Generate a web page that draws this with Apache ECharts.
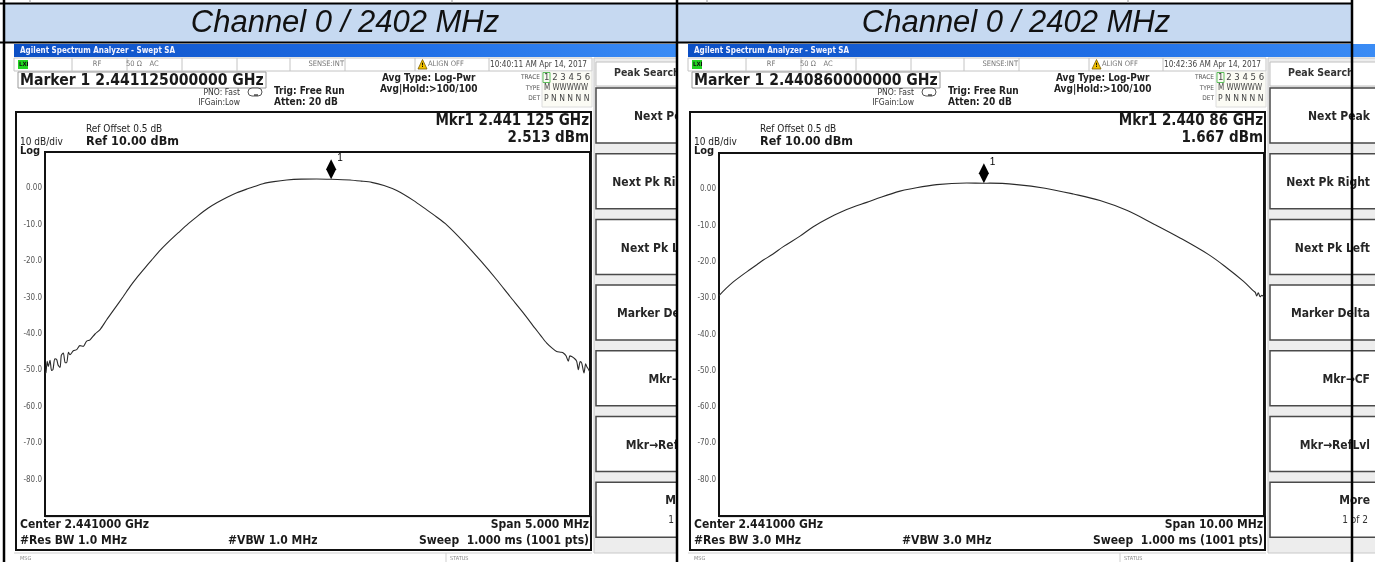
<!DOCTYPE html>
<html><head><meta charset="utf-8">
<script src="https://cdn.jsdelivr.net/npm/echarts@6/dist/echarts.min.js"></script>
<style>html,body{margin:0;padding:0;background:#fff}#c{width:1375px;height:562px}</style>
</head><body><div id="c"></div>
<script>
// ---------- data ----------
const headerTitles = ['Channel 0 / 2402 MHz', 'Channel 0 / 2402 MHz'];

// Trace A: span 5 MHz around 2441 MHz (MHz, dBm)
const freqA = [2438.500,2438.509,2438.520,2438.530,2438.546,2438.560,2438.573,2438.590,2438.607,2438.620,2438.638,2438.650,2438.668,2438.685,2438.699,2438.715,2438.729,2438.760,2438.791,2438.820,2438.851,2438.880,2438.913,2438.959,2439.005,2439.066,2439.142,2439.218,2439.280,2439.341,2439.410,2439.478,2439.560,2439.647,2439.730,2439.815,2439.900,2439.998,2440.080,2440.167,2440.260,2440.350,2440.430,2440.500,2440.600,2440.717,2440.850,2440.993,2441.125,2441.298,2441.400,2441.497,2441.610,2441.727,2441.879,2442.002,2442.090,2442.185,2442.338,2442.500,2442.644,2442.766,2442.888,2442.995,2443.050,2443.103,2443.150,2443.194,2443.230,2443.255,2443.280,2443.301,2443.315,2443.332,2443.360,2443.378,2443.393,2443.410,2443.424,2443.445,2443.460,2443.470,2443.488,2443.500];
const levelA = [-50.8,-50.6,-47.5,-48.9,-47.2,-50.0,-49.8,-46.8,-47.0,-48.5,-49.2,-45.8,-45.2,-47.9,-47.9,-45.0,-45.7,-44.6,-44.3,-43.2,-43.4,-42.0,-41.6,-40.0,-38.8,-36.1,-32.9,-29.7,-27.0,-24.6,-22.1,-19.7,-16.9,-14.3,-12.0,-9.7,-7.6,-5.4,-3.9,-2.5,-1.2,-0.2,0.6,1.3,1.85,2.3,2.55,2.6,2.51,2.3,2.0,1.65,0.8,-0.6,-3.3,-5.9,-7.8,-10.0,-14.6,-20.0,-25.1,-29.7,-34.2,-38.4,-40.5,-42.5,-43.8,-44.8,-45.0,-45.2,-46.0,-47.5,-46.0,-46.2,-46.8,-47.5,-49.8,-47.6,-48.0,-50.7,-48.2,-48.9,-49.8,-50.5];

// Trace B: span 10 MHz around 2441 MHz (MHz, dBm)
const freqB = [2436.000,2436.130,2436.262,2436.420,2436.569,2436.700,2436.813,2436.985,2437.180,2437.486,2437.730,2437.987,2438.281,2438.464,2438.710,2438.985,2439.321,2439.505,2439.994,2440.545,2440.860,2440.972,2441.462,2441.982,2442.501,2442.991,2443.481,2443.982,2444.459,2444.985,2445.315,2445.620,2445.806,2445.840,2445.866,2445.895,2445.930,2445.960,2446.000];
const levelB = [-29.3,-27.3,-25.5,-23.7,-22.1,-20.7,-19.5,-17.9,-15.8,-12.9,-10.3,-8.1,-6.0,-4.9,-3.6,-2.1,-0.5,0.1,1.3,1.75,1.667,1.7,1.3,0.3,-1.3,-3.1,-5.8,-9.6,-13.4,-18.0,-21.6,-25.3,-28.0,-28.4,-29.4,-28.5,-29.6,-29.2,-29.8];

const markerFreq = [2441.125, 2440.86];
const markerLevel = [2.513, 1.667];
const xMin = [2438.5, 2436];
const xMax = [2443.5, 2446];
const xStep = [0.5, 1];
const yTickValues = [0, -10, -20, -30, -40, -50, -60, -70, -80];
const yTickLabels = ['0.00', '-10.0', '-20.0', '-30.0', '-40.0', '-50.0', '-60.0', '-70.0', '-80.0'];

const markerText = ['Marker 1 2.441125000000 GHz', 'Marker 1 2.440860000000 GHz'];
const clockText = ['10:40:11 AM Apr 14, 2017', '10:42:36 AM Apr 14, 2017'];
const mkrFreqText = ['Mkr1 2.441 125 GHz', 'Mkr1 2.440 86 GHz'];
const mkrLevelText = ['2.513 dBm', '1.667 dBm'];
const spanText = ['Span 5.000 MHz', 'Span 10.00 MHz'];
const resBwText = ['#Res BW 1.0 MHz', '#Res BW 3.0 MHz'];
const vbwText = ['#VBW 1.0 MHz', '#VBW 3.0 MHz'];
const softkeyText = ['Next Peak', 'Next Pk Right', 'Next Pk Left', 'Marker Delta', 'Mkr\u2192CF', 'Mkr\u2192RefLvl', 'More'];

// ---------- drawing ----------
const FN = "'Liberation Sans Narrow','Arial Narrow','DejaVu Sans Condensed','Liberation Sans',sans-serif";
const FW = "'Liberation Sans',Arial,sans-serif";

function T(x, y, s, size, z, o) {
  o = o || {};
  return {type: 'text', x: x, y: y, z: z, silent: true,
    style: {text: s, font: (o.italic ? 'italic ' : '') + (o.bold ? 'bold ' : '') + size + 'px ' + (o.family || FN),
      fill: o.color || '#1a1a1a', textAlign: o.align || 'left', textVerticalAlign: 'middle', verticalAlign: 'middle'}};
}
function R(x, y, w, h, z, fill, stroke, lw) {
  return {type: 'rect', z: z, silent: true, shape: {x: x, y: y, width: w, height: h},
    style: {fill: fill || 'none', stroke: stroke || 'none', lineWidth: lw || 1}};
}
function L(x1, y1, x2, y2, z, stroke, lw) {
  return {type: 'line', z: z, silent: true, shape: {x1: x1, y1: y1, x2: x2, y2: y2},
    style: {stroke: stroke || '#000', lineWidth: lw || 1}};
}

function panel(i, ox, z, barEnd) {
  const e = [];
  // title bar
  e.push(R(ox, 44, barEnd - ox, 13, z, new echarts.graphic.LinearGradient(0, 0, 1, 0, [
    {offset: 0, color: '#0c4fc4'}, {offset: 0.6, color: '#1f6ee6'}, {offset: 1, color: '#3b8cf5'}])));
  e.push(T(ox + 6, 50.5, 'Agilent Spectrum Analyzer - Swept SA', 8, z, {bold: true, color: '#f4f4ff'}));
  // status row
  e.push(R(ox, 58, 578, 13, z, '#fff', '#c4c4c4', 1));
  [58, 113, 168, 223, 276, 331, 401, 475].forEach(function (s) { e.push(L(ox + s, 58, ox + s, 71, z, '#c4c4c4', 1)); });
  e.push(R(ox + 4, 60, 10, 9, z, '#22d322'));
  e.push(T(ox + 5, 64.5, 'LXI', 6, z, {bold: true, color: '#111'}));
  e.push(T(ox + 83, 64.5, 'RF', 7.5, z, {color: '#777', align: 'center'}));
  e.push(T(ox + 120, 64.5, '50 \u03A9', 7.5, z, {color: '#777', align: 'center'}));
  e.push(T(ox + 140, 64.5, 'AC', 7.5, z, {color: '#777', align: 'center'}));
  e.push(T(ox + 330, 64.5, 'SENSE:INT', 7.5, z, {color: '#777', align: 'right'}));
  e.push({type: 'polygon', z: z, silent: true, shape: {points: [[ox + 404, 69], [ox + 408.5, 59.5], [ox + 413, 69]]},
    style: {fill: '#f2c200', stroke: '#7a5a00', lineWidth: 0.8}});
  e.push(T(ox + 408.5, 65.5, '!', 6, z, {bold: true, color: '#000', align: 'center'}));
  e.push(T(ox + 414, 64.5, 'ALIGN OFF', 7.5, z, {color: '#777'}));
  e.push(T(ox + 476, 64.5, clockText[i], 8.2, z, {color: '#444'}));
  // marker box
  e.push(R(ox + 4, 72, 248, 16, z, '#fff', '#9a9a9a', 1));
  e.push(T(ox + 6, 80.5, markerText[i], 15.6, z, {bold: true, color: '#1a1a1a'}));
  e.push(T(ox + 226, 93, 'PNO: Fast', 8.5, z, {align: 'right', color: '#333'}));
  e.push(T(ox + 226, 103, 'IFGain:Low', 8.5, z, {align: 'right', color: '#333'}));
  e.push({type: 'rect', z: z, silent: true, shape: {x: ox + 234, y: 88, width: 14, height: 8, r: 4},
    style: {fill: '#fff', stroke: '#555', lineWidth: 1}});
  e.push(L(ox + 240, 95, ox + 244, 95, z, '#222', 1.2));
  e.push(T(ox + 260, 91.5, 'Trig: Free Run', 10, z, {bold: true, color: '#222'}));
  e.push(T(ox + 260, 102.5, 'Atten: 20 dB', 10, z, {bold: true, color: '#222'}));
  e.push(T(ox + 368, 78, 'Avg Type: Log-Pwr', 10, z, {bold: true, color: '#222'}));
  e.push(T(ox + 366, 89.5, 'Avg|Hold:>100/100', 10, z, {bold: true, color: '#222'}));
  // trace table
  e.push(R(ox + 528, 71, 50, 36, z, '#fbfbf4', '#dcdcdc', 1));
  e.push(R(ox + 529, 72.5, 7, 10, z, 'none', '#5cbf5c', 1));
  e.push(T(ox + 526, 77.5, 'TRACE', 6.5, z, {align: 'right', color: '#555'}));
  e.push(T(ox + 526, 88, 'TYPE', 6.5, z, {align: 'right', color: '#555'}));
  e.push(T(ox + 526, 98.5, 'DET', 6.5, z, {align: 'right', color: '#555'}));
  e.push(T(ox + 530, 77.5, '1 2 3 4 5 6', 9.5, z, {color: '#444'}));
  e.push(T(ox + 530, 88, 'M WWWWW', 8, z, {color: '#444'}));
  e.push(T(ox + 530, 98.5, 'P N N N N N', 8.5, z, {color: '#444'}));
  // graph frame
  e.push(R(ox + 2, 112, 575, 438, z, '#fff', '#111', 2));
  e.push(T(ox + 72, 129, 'Ref Offset 0.5 dB', 10, z, {color: '#222'}));
  e.push(T(ox + 6, 142, '10 dB/div', 10, z, {color: '#222'}));
  e.push(T(ox + 72, 142, 'Ref 10.00 dBm', 12.5, z, {bold: true, color: '#1a1a1a'}));
  e.push(T(ox + 6, 151.5, 'Log', 11, z, {bold: true, color: '#1a1a1a'}));
  e.push(T(ox + 575, 121.5, mkrFreqText[i], 15, z, {bold: true, align: 'right', color: '#1a1a1a'}));
  e.push(T(ox + 575, 138.5, mkrLevelText[i], 15, z, {bold: true, align: 'right', color: '#1a1a1a'}));
  e.push(T(ox + 6, 525, 'Center 2.441000 GHz', 12, z, {bold: true, color: '#1a1a1a'}));
  e.push(T(ox + 575, 525, spanText[i], 12, z, {bold: true, align: 'right', color: '#1a1a1a'}));
  e.push(T(ox + 6, 541, resBwText[i], 12, z, {bold: true, color: '#1a1a1a'}));
  e.push(T(ox + 214, 541, vbwText[i], 12, z, {bold: true, color: '#1a1a1a'}));
  e.push(T(ox + 575, 541, 'Sweep  1.000 ms (1001 pts)', 12, z, {bold: true, align: 'right', color: '#1a1a1a'}));
  // msg row
  e.push(L(ox, 553, ox + 578, 553, z, '#cfcfcf', 1));
  e.push(L(ox + 432, 553, ox + 432, 562, z, '#cfcfcf', 1));
  e.push(T(ox + 6, 559, 'MSG', 5.5, z, {color: '#888'}));
  e.push(T(ox + 436, 559, 'STATUS', 5.5, z, {color: '#888'}));
  // softkeys
  const sx = ox + 580;
  e.push(R(sx, 58, 110, 495, z, '#ededed', '#c8c8c8', 1));
  e.push(R(sx + 2, 62, 106, 24, z, '#fff', '#c0c0c0', 1));
  e.push(T(ox + 600, 73.5, 'Peak Search', 10.5, z, {bold: true, color: '#333'}));
  for (let k = 0; k < 7; k++) {
    const by = 88 + k * 65.7;
    e.push(R(sx + 2, by, 106, 55, z, '#fff', '#4a4a4a', 1.5));
    if (k < 6) {
      e.push(T(ox + 682, by + 29, softkeyText[k], 12, z, {bold: true, align: 'right', color: '#262626'}));
    } else {
      e.push(T(ox + 682, by + 19, softkeyText[k], 12, z, {bold: true, align: 'right', color: '#262626'}));
      e.push(T(ox + 680, by + 38, '1 of 2', 10, z, {align: 'right', color: '#333'}));
    }
  }
  return e;
}

let G = [];
G = G.concat(panel(0, 14, -10, 677));
G.push(R(678, 43, 700, 520, -9, '#fff'));
G = G.concat(panel(1, 688, -8, 1375));
// document table (title cells and borders)
G.push(R(4, 4, 673, 38, 20, '#c6d9f1'));
G.push(R(678, 4, 674, 38, 20, '#c6d9f1'));
G.push(T(345, 23.5, headerTitles[0], 31, 21, {italic: true, family: FW, color: '#111', align: 'center'}));
G.push(T(1016, 23.5, headerTitles[1], 31, 21, {italic: true, family: FW, color: '#111', align: 'center'}));
G.push(L(0, 3.5, 1352, 3.5, 22, '#000', 2));
G.push(L(0, 42.5, 1352, 42.5, 22, '#000', 2));
G.push(L(4, 0, 4, 562, 22, '#000', 2.5));
G.push(L(677, 0, 677, 562, 22, '#000', 2.5));
G.push(L(1352, 0, 1352, 562, 22, '#000', 2.5));
G.push(L(30, 0, 30, 3, 22, '#999', 1));
G.push(L(452, 0, 452, 3, 22, '#999', 1));
G.push(L(707, 0, 707, 3, 22, '#999', 1));
G.push(L(1128, 0, 1128, 3, 22, '#999', 1));

function pairs(fx, ly) { return fx.map(function (f, k) { return [f, ly[k]]; }); }

const grids = [
  {left: 45, top: 152, width: 545, height: 364},
  {left: 719, top: 153, width: 545, height: 363}
];
const smoothness = [0.25, 0.35];
const option = {
  backgroundColor: '#fff',
  animation: false,
  grid: grids.map(function (g) {
    return Object.assign({show: true, borderColor: '#111', borderWidth: 2, backgroundColor: '#fff', z: 2}, g);
  }),
  xAxis: [0, 1].map(function (i) {
    return {type: 'value', gridIndex: i, min: xMin[i], max: xMax[i], interval: xStep[i],
      axisLabel: {show: false}, axisTick: {show: false}, axisLine: {show: false},
      splitLine: {show: true, lineStyle: {color: '#8a8a8a', width: 1.3}}};
  }),
  yAxis: [0, 1].map(function (i) {
    return {type: 'value', gridIndex: i, min: -90, max: 10, interval: 10,
      axisTick: {show: false}, axisLine: {show: false},
      splitLine: {show: true, lineStyle: {color: '#8a8a8a', width: 1.3}},
      axisLabel: {show: true, margin: 3, fontSize: 8, color: '#555', fontFamily: FN,
        showMinLabel: false, showMaxLabel: false,
        formatter: function (v) { const k = yTickValues.indexOf(v); return k >= 0 ? yTickLabels[k] : ''; }}};
  }),
  graphic: {elements: G},
  series: [[freqA, levelA], [freqB, levelB]].map(function (d, i) {
    return {type: 'line', xAxisIndex: i, yAxisIndex: i, data: pairs(d[0], d[1]),
      showSymbol: false, symbol: 'none', smooth: smoothness[i], clip: true,
      lineStyle: {color: '#2a2a2a', width: 1.1}, z: 5,
      markPoint: {symbol: 'diamond', symbolSize: [10, 20], symbolOffset: [0, -10],
        itemStyle: {color: '#000'},
        label: {show: true, formatter: '1', position: [11, -6], fontSize: 10, color: '#000', fontFamily: FW},
        data: [{coord: [markerFreq[i], markerLevel[i]]}]}};
  })
};
const chart = echarts.init(document.getElementById('c'), null, {renderer: 'canvas'});
chart.setOption(option);
</script>
</body></html>
